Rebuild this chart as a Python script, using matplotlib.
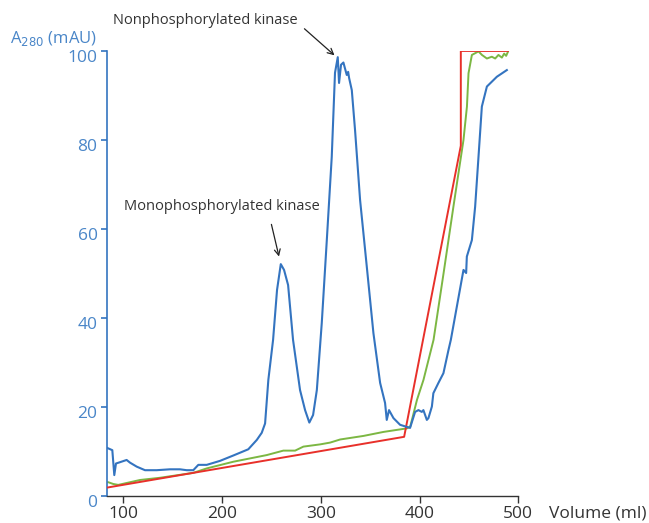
import matplotlib
matplotlib.use("Agg")
import matplotlib.pyplot as plt
import matplotlib.transforms as mtrans

# blue A280 trace
a280_vol = [83.8, 84.8, 88.9, 90.9, 92.6, 96.7, 103.4, 106.8, 113.6, 122, 133.8, 147.3, 157.4,
            164.2, 170.9, 176, 184.5, 198, 211.4, 226.6, 235.2, 240.2, 243.6, 246.9,
            251.7, 255.7, 259.5, 262.8, 266.9, 271.9, 279, 284.1, 288.4, 292.2, 296, 301,
            306.1, 311.1, 314.4, 317.2, 318.5, 320.5, 322.9, 326.3, 327.7, 328.7, 331.4,
            334.7, 339.8, 346.6, 353.3, 360.1, 365.1, 366.8, 369.1, 373.6, 380.3, 390.4,
            395.5, 398.9, 402.3, 403.9, 407.4, 409, 412.5, 414, 419.1, 424.2, 429.3, 431.7,
            444.5, 447.2, 447.9, 453, 456.3, 459.7, 463.1, 468.2, 478.3, 488.4]
a280 = [10.8, 10.7, 10.3, 4.7, 7.3, 7.6, 8.1, 7.5, 6.6, 5.8, 5.8, 6.0, 6.0,
        5.8, 5.8, 7.0, 7.0, 7.9, 9.1, 10.5, 12.6, 14.2, 16.3, 26.1,
        35.1, 46.3, 52.1, 50.8, 47.4, 35.1, 23.8, 19.3, 16.5, 18.2, 23.8, 38.9,
        57.5, 76.2, 95.1, 98.6, 92.8, 96.9, 97.4, 94.6, 95.3, 93.9, 91.2,
        82.2, 66.5, 51.5, 36.6, 25.4, 20.9, 17.1, 19.3, 17.5, 16.0, 15.3,
        18.9, 19.3, 18.9, 19.3, 17.1, 17.5, 20.1, 23.1, 25.4, 27.6, 32.8, 35.1,
        50.8, 50.1, 53.8, 57.5, 65.0, 76.2, 87.5, 92.0, 94.2, 95.7]

# red gradient (programmed)
grad_vol = [83.8, 384.4, 441.8, 441.8, 489.5]
grad = [1.9, 13.3, 78.7, 100, 100]

# green conductivity
cond_vol = [83.8, 84.8, 89.9, 94.9, 116.9, 137.2, 170.9, 184.5, 211.4, 245.3, 262.1, 274,
            282.4, 299.3, 309.4, 319.6, 343.2, 363.5, 387.2, 390.6, 397.4, 404, 414.2,
            424.3, 434.3, 444.5, 448, 449.6, 453, 456.4, 459.7, 463.2, 468.2, 473.2,
            476.6, 479.9, 483.4, 485.7, 487.7, 489.5]
cond = [3.1, 3.1, 2.7, 2.5, 3.6, 4.1, 5.2, 6.2, 7.7, 9.2, 10.2, 10.2,
        11.1, 11.6, 12.0, 12.7, 13.5, 14.4, 15.2, 15.6, 21.6, 26.1, 35.1,
        50, 65, 80, 87.5, 95, 99.1, 99.5, 99.9, 99.1, 98.3, 98.7,
        98.3, 99.1, 98.5, 99.4, 98.9, 99.8]

blue = "#3474c0"
tick_blue = "#4a86c8"
grey = "#333333"

plt.rcParams['font.family'] = ['Open Sans', 'DejaVu Sans']

fig = plt.figure(figsize=(6.49, 5.23), dpi=100)
ax = fig.add_axes([0.1653, 0.0516, 0.6333, 0.851])

ax.plot(cond_vol, cond, color="#7cb743", lw=1.4, zorder=2)
ax.plot(grad_vol, grad, color="#e8302a", lw=1.4, zorder=3)
ax.plot(a280_vol, a280, color=blue, lw=1.5, zorder=4)

ax.set_xlim(83.8, 500)
ax.set_ylim(0, 100)
ax.set_xticks([100, 200, 300, 400, 500])
ax.set_yticks([0, 20, 40, 60, 80, 100])

for s in ["top", "right"]:
    ax.spines[s].set_visible(False)
ax.spines["left"].set_color(blue)
ax.spines["bottom"].set_color(grey)
ax.spines["left"].set_linewidth(1.2)
ax.spines["bottom"].set_linewidth(1.0)
ax.spines["left"].set_bounds(0, 100)
ax.spines["bottom"].set_bounds(83.8, 500)

ax.tick_params(axis="y", colors=blue, labelcolor=tick_blue, labelsize=12.5, length=4, width=1.2, pad=3)
ax.tick_params(axis="x", colors=grey, labelcolor=grey, labelsize=12.5, length=5, width=1.0, pad=2)

# y tick labels sit a little below their ticks in the original
shift = mtrans.ScaledTranslation(0, -5 / 100, fig.dpi_scale_trans)
for lab in ax.get_yticklabels():
    lab.set_transform(lab.get_transform() + shift)

fig.text(0.015, 1 - 39 / 523, "A$_{280}$ (mAU)", color=tick_blue, fontsize=12, ha="left", va="center")
fig.text(549 / 649, 1 - 514 / 523, "Volume (ml)", color=grey, fontsize=12.5, ha="left", va="center")

ax.annotate("Nonphosphorylated kinase", xy=(316, 98.6), xytext=(113 / 649, 1 - 20 / 523),
            textcoords="figure fraction", fontsize=10.5, color=grey, ha="left", va="center",
            arrowprops=dict(arrowstyle="->", color="#222222", lw=0.9, shrinkA=3, shrinkB=2,
                            relpos=(1.02, 0.1)))
ax.annotate("Monophosphorylated kinase", xy=(258, 53.5), xytext=(124 / 649, 1 - 206 / 523),
            textcoords="figure fraction", fontsize=10.5, color=grey, ha="left", va="center",
            arrowprops=dict(arrowstyle="->", color="#222222", lw=0.9, shrinkA=6, shrinkB=1,
                            relpos=(0.74, 0)))

fig.savefig("out.png", dpi=100)
